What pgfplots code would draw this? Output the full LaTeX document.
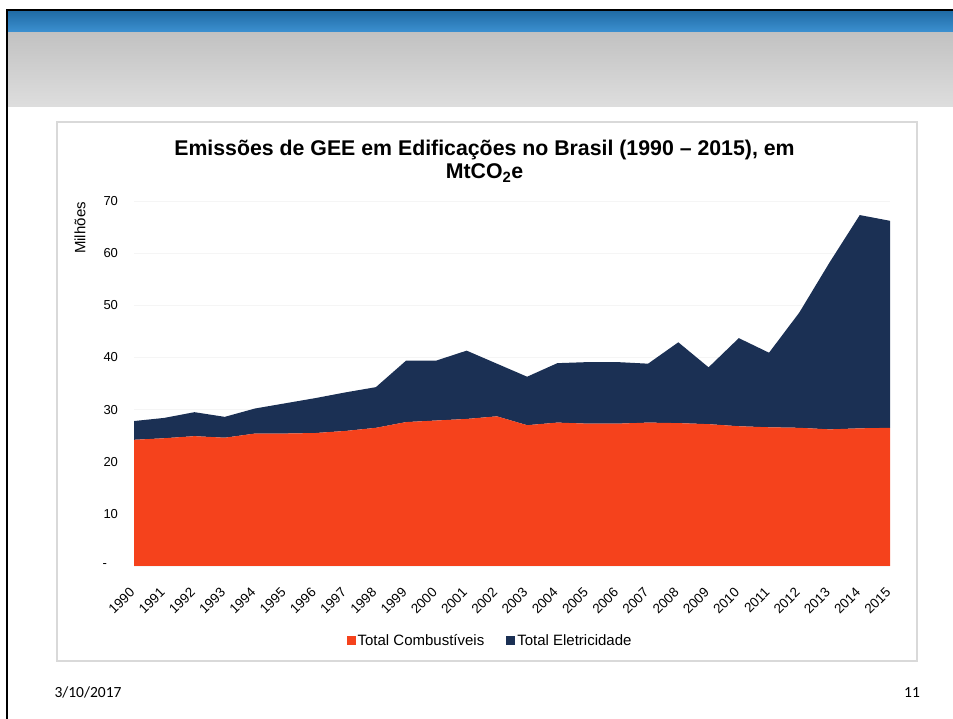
\documentclass[border=0pt]{standalone}
\usepackage{pgfplots}
\pgfplotsset{compat=1.18}
\usepackage{pgfplotstable}
\usepackage{fontspec}
\setmainfont{Liberation Sans}
\newfontfamily\calibri{Carlito}

\definecolor{comb}{RGB}{245,66,28}
\definecolor{elet}{RGB}{27,48,84}
\definecolor{slideblue}{RGB}{40,134,206}
\definecolor{boxgray}{RGB}{217,217,217}

% emissoes, milhoes de tCO2e
\pgfplotstableread{
ano  comb  elet
1990 24.2  3.6
1991 24.5  3.9
1992 24.9  4.6
1993 24.6  4.0
1994 25.4  4.8
1995 25.4  5.8
1996 25.5  6.7
1997 25.9  7.4
1998 26.5  7.8
1999 27.6  11.8
2000 27.9  11.5
2001 28.2  13.1
2002 28.7  10.1
2003 27.0  9.3
2004 27.5  11.4
2005 27.3  11.8
2006 27.3  11.8
2007 27.5  11.3
2008 27.4  15.5
2009 27.2  10.9
2010 26.8  16.9
2011 26.6  14.3
2012 26.5  22.1
2013 26.2  32.0
2014 26.4  40.9
2015 26.5  39.7
}\dados

\begin{document}
\begin{tikzpicture}
\path[use as bounding box] (0,0) rectangle (953pt,719pt);

% moldura do slide
\shade[top color=slideblue!80!black, bottom color=slideblue!90!white] (8pt,708pt) rectangle (953pt,686pt);
\shade[top color=black!24, bottom color=black!13] (8pt,686pt) rectangle (953pt,612pt);
\draw[line width=2pt] (953pt,709pt) -- (7pt,709pt) -- (7pt,0pt);
\draw[boxgray, line width=1.5pt] (57pt,58pt) rectangle (917pt,597pt);

\node[align=center, font=\fontsize{21.3}{23.5}\selectfont\bfseries] at (484.5pt,558pt)
  {Emissões de GEE em Edificações no Brasil (1990 – 2015), em\\MtCO\textsubscript{2}e};
\node[rotate=90, font=\fontsize{15}{17}\selectfont] at (80pt,491pt) {Milhões};
\node[anchor=west, font=\calibri\fontsize{15.5}{18}\selectfont] at (51pt,26.5pt) {3/10/2017};
\node[font=\calibri\fontsize{15.5}{18}\selectfont] at (912pt,26.5pt) {11};

\begin{axis}[
    at={(134pt,153pt)}, anchor=south west,
    scale only axis,
    width=756pt, height=365pt,
    xmin=1990, xmax=2015,
    ymin=0, ymax=70,
    stack plots=y,
    axis line style={draw=none},
    major tick length=0pt,
    xtick={1990,...,2015},
    ytick={0,10,...,70},
    yticklabels={{-\kern11pt},10,20,30,40,50,60,70},
    ymajorgrids=true,
    grid style={black!4, line width=0.6pt},
    /pgf/number format/assume math mode=true,
    xticklabel={\pgfmathprintnumber[1000 sep={}]{\tick}},
    tick label style={font=\fontsize{13}{15}\selectfont},
    xticklabel style={font=\fontsize{13.5}{15}\selectfont, inner sep=0pt,
        xshift=-1.7pt, yshift=-24pt, rotate=45, anchor=east},
    yticklabel style={xshift=-12.5pt},
    legend style={at={(0.471,-0.205)}, anchor=center, draw=none, fill=none,
        legend columns=2, font=\fontsize{15}{17}\selectfont,
        /tikz/every even column/.append style={column sep=20pt}},
    legend image code/.code={\fill[#1] (0pt,-4.5pt) rectangle (9pt,4.5pt);},
]
\addplot[fill=comb, draw=none] table[x=ano, y=comb] {\dados} \closedcycle;
\addlegendentry{Total Combustíveis}
\addplot[fill=elet, draw=none] table[x=ano, y=elet] {\dados} \closedcycle;
\addlegendentry{Total Eletricidade}
\end{axis}
\end{tikzpicture}
\end{document}
